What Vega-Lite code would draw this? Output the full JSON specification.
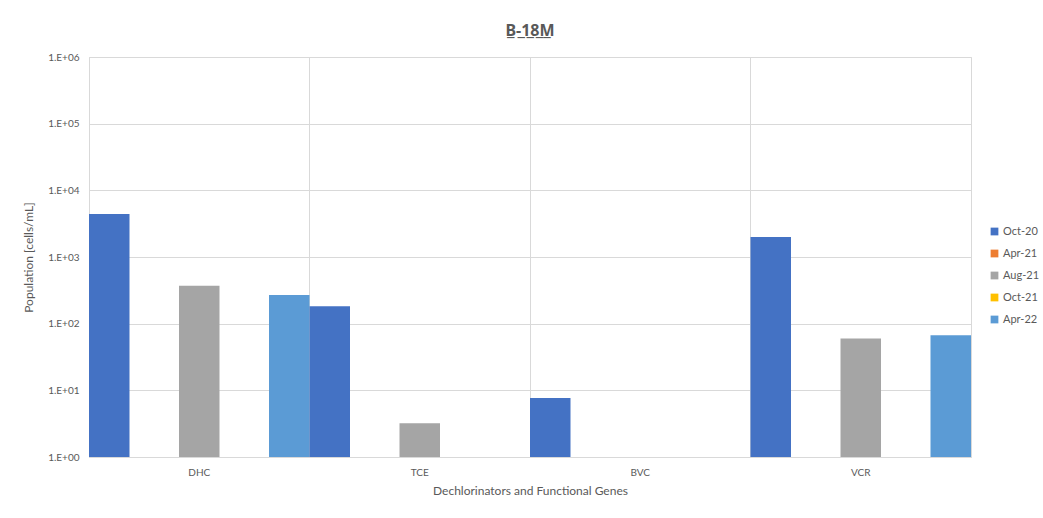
{
  "$schema": "https://vega.github.io/schema/vega-lite/v6.json",
  "autosize": {"type": "none"},
  "width": 882,
  "height": 400,
  "padding": {"left": 89, "top": 57, "right": 72, "bottom": 61},
  "background": "white",
  "title": {
    "text": "B̲-̲1̲8̲M̲",
    "font": "Noto Sans",
    "fontSize": 16,
    "fontWeight": "bold",
    "color": "#595959",
    "anchor": "middle",
    "offset": 13
  },
  "data": {
    "values": [
      {"gene": "DHC", "date": "Oct-20", "cells": 4400},
      {"gene": "DHC", "date": "Aug-21", "cells": 370},
      {"gene": "DHC", "date": "Apr-22", "cells": 270},
      {"gene": "TCE", "date": "Oct-20", "cells": 183},
      {"gene": "TCE", "date": "Aug-21", "cells": 3.2},
      {"gene": "BVC", "date": "Oct-20", "cells": 7.7},
      {"gene": "VCR", "date": "Oct-20", "cells": 2000},
      {"gene": "VCR", "date": "Aug-21", "cells": 60},
      {"gene": "VCR", "date": "Apr-22", "cells": 67}
    ]
  },
  "mark": {"type": "bar"},
  "encoding": {
    "x": {
      "field": "gene",
      "type": "nominal",
      "sort": ["DHC", "TCE", "BVC", "VCR"],
      "scale": {"paddingInner": 0, "paddingOuter": 0},
      "axis": {
        "title": "Dechlorinators and Functional Genes",
        "labelAngle": 0,
        "labelFont": "Lato",
        "labelFontSize": 10,
        "labelColor": "#595959",
        "labelPadding": 10,
        "titleFont": "Lato",
        "titleFontSize": 12,
        "titleFontWeight": "normal",
        "titleColor": "#595959",
        "titlePadding": 8,
        "ticks": false,
        "domainColor": "#d9d9d9",
        "grid": true,
        "gridColor": "#d9d9d9",
        "bandPosition": 0
      }
    },
    "xOffset": {
      "field": "date",
      "type": "nominal",
      "scale": {"domain": ["Oct-20", "Apr-21", "Aug-21", "Oct-21", "Apr-22"], "paddingInner": 0.1, "paddingOuter": 0}
    },
    "y": {
      "field": "cells",
      "type": "quantitative",
      "scale": {"type": "log", "domain": [1, 1000000], "nice": false},
      "axis": {
        "title": "Population [cells/mL]",
        "values": [1, 10, 100, 1000, 10000, 100000, 1000000],
        "labelExpr": "'1.E+0' + round(log(datum.value) / LN10)",
        "labelFont": "Lato",
        "labelFontSize": 10,
        "labelColor": "#595959",
        "labelPadding": 10,
        "titleFont": "Lato",
        "titleFontSize": 12,
        "titleFontWeight": "normal",
        "titleColor": "#595959",
        "titlePadding": 12,
        "ticks": false,
        "domain": false,
        "grid": true,
        "gridColor": "#d9d9d9"
      }
    },
    "y2": {"datum": 1},
    "color": {
      "field": "date",
      "type": "nominal",
      "scale": {
        "domain": ["Oct-20", "Apr-21", "Aug-21", "Oct-21", "Apr-22"],
        "range": ["#4472C4", "#ED7D31", "#A5A5A5", "#FFC000", "#5B9BD5"]
      },
      "legend": {
        "title": null,
        "orient": "none",
        "legendX": 900,
        "legendY": 169,
        "symbolType": "square",
        "symbolSize": 60,
        "symbolStrokeWidth": 0,
        "labelFont": "Lato",
        "labelFontSize": 11,
        "labelColor": "#595959",
        "rowPadding": 10,
        "labelOffset": 3
      }
    }
  },
  "config": {
    "view": {"stroke": "#d9d9d9"},
    "scale": {"bandPaddingInner": 0, "bandPaddingOuter": 0}
  }
}
